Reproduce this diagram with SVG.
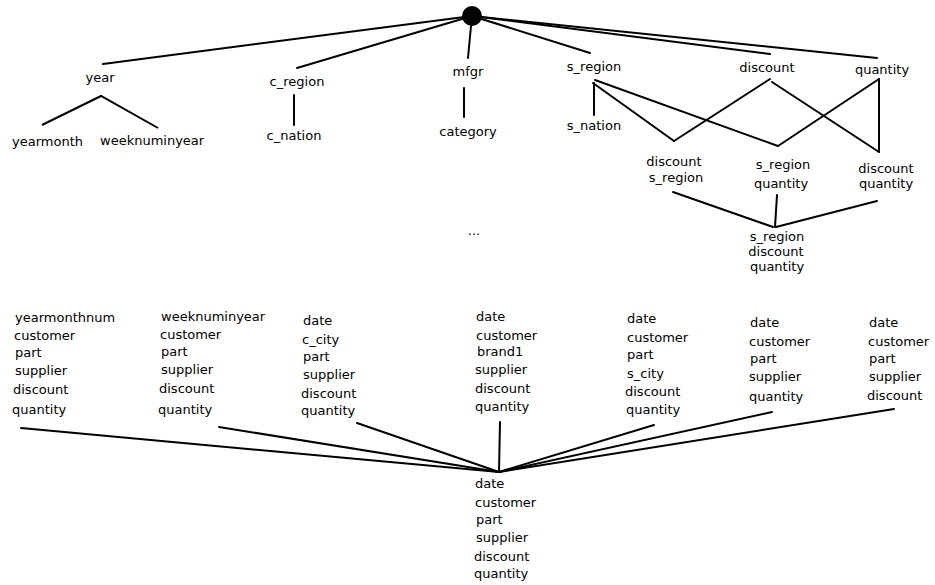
<svg xmlns="http://www.w3.org/2000/svg" width="935" height="585" viewBox="0 0 935 585">
<style>
text{font-family:"DejaVu Sans",sans-serif;font-size:13px;fill:#000}
.m{text-anchor:middle}
line{stroke:#000;stroke-width:2;stroke-linecap:round}
</style>
<rect width="935" height="585" fill="#fff"/>
<g id="connectors">
<line x1="472" y1="16" x2="103" y2="64"/>
<line x1="472" y1="16" x2="297" y2="68"/>
<line x1="471" y1="26" x2="468" y2="58"/>
<line x1="472" y1="16" x2="590" y2="53"/>
<line x1="472" y1="16" x2="770" y2="54"/>
<line x1="472" y1="16" x2="877" y2="58"/>
<polyline points="42,125 101,96 158,128" fill="none" stroke="#000" stroke-width="2"/>
<line x1="294" y1="95" x2="294" y2="125"/>
<line x1="464" y1="88" x2="464" y2="117"/>
<line x1="594" y1="83" x2="594" y2="115"/>
<line x1="593" y1="83" x2="674" y2="141"/>
<line x1="595" y1="80" x2="778" y2="146"/>
<line x1="770" y1="79" x2="674" y2="141"/>
<line x1="772" y1="82" x2="879" y2="152"/>
<line x1="879" y1="79" x2="778" y2="146"/>
<line x1="879" y1="79" x2="879" y2="152"/>
<line x1="673" y1="192" x2="773" y2="227"/>
<line x1="777" y1="195" x2="775" y2="227"/>
<line x1="877" y1="201" x2="776" y2="227"/>
<line x1="21" y1="428" x2="499" y2="472"/>
<line x1="219" y1="427" x2="499" y2="472"/>
<line x1="357" y1="423" x2="499" y2="472"/>
<line x1="500" y1="422" x2="499" y2="472"/>
<line x1="654" y1="425" x2="499" y2="472"/>
<line x1="772" y1="412" x2="499" y2="472"/>
<line x1="894" y1="409" x2="499" y2="472"/>
</g>
<g id="root"><circle cx="472" cy="16" r="10" fill="#000"/></g>
<g id="year"><text class="m" x="100" y="82">year</text></g>
<g id="c_region"><text class="m" x="297" y="86">c_region</text></g>
<g id="mfgr"><text class="m" x="468" y="76">mfgr</text></g>
<g id="s_region"><text class="m" x="594" y="71">s_region</text></g>
<g id="discount"><text class="m" x="767" y="72">discount</text></g>
<g id="quantity"><text class="m" x="882" y="74">quantity</text></g>
<g id="yearmonth"><text x="12" y="146">yearmonth</text></g>
<g id="weeknuminyear"><text x="100" y="145">weeknuminyear</text></g>
<g id="c_nation"><text class="m" x="294" y="140">c_nation</text></g>
<g id="category"><text class="m" x="468" y="136">category</text></g>
<g id="s_nation"><text class="m" x="594" y="130">s_nation</text></g>
<g id="discount_s_region"><text class="m" x="674" y="166">discount</text><text class="m" x="676" y="182">s_region</text></g>
<g id="s_region_quantity"><text class="m" x="783" y="169">s_region</text><text class="m" x="781" y="188">quantity</text></g>
<g id="discount_quantity"><text class="m" x="886" y="173">discount</text><text class="m" x="886" y="188">quantity</text></g>
<g id="s_region_discount_quantity"><text class="m" x="777" y="241">s_region</text><text class="m" x="776" y="256">discount</text><text class="m" x="777" y="271">quantity</text></g>
<g id="ellipsis"><text class="m" x="474" y="235">...</text></g>
<g id="col1"><text x="15" y="322">yearmonthnum</text><text x="14" y="340">customer</text><text x="15" y="357">part</text><text x="15" y="375">supplier</text><text x="13" y="394">discount</text><text x="12" y="414">quantity</text></g>
<g id="col2"><text x="161" y="321">weeknuminyear</text><text x="160" y="339">customer</text><text x="161" y="356">part</text><text x="161" y="374">supplier</text><text x="159" y="393">discount</text><text x="158" y="414">quantity</text></g>
<g id="col3"><text x="303" y="325">date</text><text x="302" y="344">c_city</text><text x="303" y="361">part</text><text x="303" y="379">supplier</text><text x="301" y="398">discount</text><text x="301" y="415">quantity</text></g>
<g id="col4"><text x="476" y="321">date</text><text x="476" y="340">customer</text><text x="477" y="356">brand1</text><text x="475" y="374">supplier</text><text x="475" y="393">discount</text><text x="475" y="411">quantity</text></g>
<g id="col5"><text x="627" y="323">date</text><text x="627" y="342">customer</text><text x="627" y="359">part</text><text x="627" y="378">s_city</text><text x="625" y="396">discount</text><text x="626" y="414">quantity</text></g>
<g id="col6"><text x="750" y="327">date</text><text x="749" y="346">customer</text><text x="750" y="363">part</text><text x="749" y="381">supplier</text><text x="749" y="401">quantity</text></g>
<g id="col7"><text x="869" y="327">date</text><text x="868" y="346">customer</text><text x="869" y="363">part</text><text x="869" y="381">supplier</text><text x="867" y="400">discount</text></g>
<g id="base"><text x="475" y="488">date</text><text x="475" y="507">customer</text><text x="476" y="524">part</text><text x="476" y="542">supplier</text><text x="474" y="561">discount</text><text x="474" y="578">quantity</text></g>
</svg>
